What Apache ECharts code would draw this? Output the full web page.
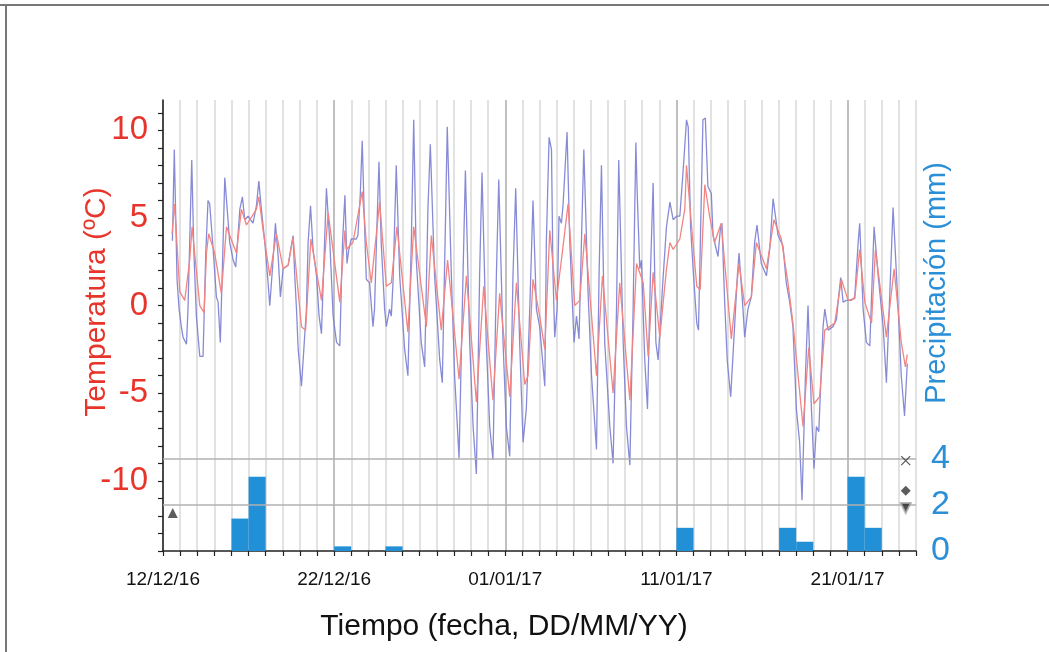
<!DOCTYPE html>
<html>
<head>
<meta charset="utf-8">
<title>Temperatura y precipitación</title>
<script src="https://cdn.jsdelivr.net/npm/echarts@6/dist/echarts.min.js"></script>
<style>
  html, body { margin: 0; padding: 0; background: #fff; }
  #chart { width: 1049px; height: 652px; }
</style>
</head>
<body>
<div id="chart"></div>
<script>
// x = días desde 12/12/16
var dateLabels = ['12/12/16', '22/12/16', '01/01/17', '11/01/17', '21/01/17'];
var labelDays = [0, 10, 20, 30, 40];

// precipitación diaria (mm), un valor por día
var precip = [0, 0, 0, 0, 1.4, 3.2, 0, 0, 0, 0, 0.2, 0, 0, 0.2, 0, 0, 0, 0, 0, 0, 0, 0,
  0, 0, 0, 0, 0, 0, 0, 0, 1.0, 0, 0, 0, 0, 0, 1.0, 0.4, 0, 0, 3.2, 1.0, 0, 0];

// temperatura (serie azul) [día, ºC]
var tempBlue = [
  [0.55, 3.7], [0.66, 8.9], [0.82, 1.5], [0.94, -0.2], [1.07, -1.2], [1.17, -1.8], [1.37, -2.2],
  [1.46, -0.2], [1.56, 3.6], [1.68, 8.3], [1.80, 3.2], [1.95, -0.6], [2.15, -2.9], [2.34, -2.9],
  [2.50, 3.0], [2.63, 6.0], [2.73, 5.8], [2.93, 3.2], [3.12, 0.5], [3.22, 0.2], [3.35, -2.1],
  [3.51, 3.6], [3.61, 7.3], [3.90, 3.6], [4.10, 2.6], [4.25, 2.2], [4.49, 5.5], [4.64, 6.2],
  [4.78, 4.9], [4.97, 5.1], [5.26, 4.7], [5.46, 5.7], [5.60, 7.1], [5.75, 5.5], [5.95, 3.6],
  [6.14, 1.3], [6.24, 0.0], [6.43, 2.6], [6.57, 4.7], [6.73, 2.8], [6.86, 0.5], [7.02, 2.1],
  [7.31, 2.3], [7.60, 4.0], [7.70, 1.7], [7.80, -0.2], [7.90, -2.5], [8.09, -4.6], [8.38, -0.2],
  [8.48, 3.6], [8.62, 5.7], [8.77, 3.2], [8.97, 1.7], [9.12, -0.6], [9.26, -1.6], [9.36, 1.3],
  [9.55, 6.7], [9.75, 3.6], [9.94, -0.6], [10.14, -2.1], [10.33, -2.3], [10.49, 3.6], [10.63, 6.3],
  [10.75, 2.4], [10.86, 3.2], [11.0, 3.8], [11.29, 3.8], [11.39, 4.0], [11.53, 6.4], [11.64, 9.4],
  [11.78, 4.5], [11.88, 1.5], [12.07, 1.3], [12.27, -1.2], [12.36, -0.2], [12.50, 4.5], [12.62, 8.2],
  [12.75, 3.6], [12.95, -0.2], [13.05, -1.2], [13.24, -0.2], [13.34, -0.6], [13.44, 1.3], [13.63, 8.0],
  [13.83, 1.7], [14.12, -2.5], [14.31, -4.0], [14.51, 3.6], [14.65, 10.6], [14.80, 2.6], [15.09, -2.1],
  [15.29, -3.5], [15.48, 5.5], [15.62, 9.2], [15.87, 1.7], [16.17, -3.1], [16.32, -4.4], [16.52, 5.5],
  [16.61, 10.2], [16.85, 1.7], [17.04, -4.0], [17.30, -8.7], [17.53, 1.7], [17.67, 7.7], [17.92, -2.1],
  [18.12, -6.9], [18.31, -9.6], [18.50, 1.7], [18.64, 7.6], [18.89, -2.1], [19.09, -6.9], [19.28, -8.8],
  [19.48, 1.7], [19.62, 7.2], [19.87, -2.1], [20.06, -6.9], [20.26, -8.6], [20.45, 1.7], [20.61, 6.7],
  [20.84, -2.1], [21.04, -7.8], [21.23, -5.9], [21.43, -0.2], [21.62, 6.0], [21.82, -0.2], [22.01, -1.2],
  [22.31, -4.6], [22.40, 3.6], [22.56, 9.6], [22.70, 8.9], [22.79, 1.7], [22.89, -1.8], [23.03, -0.2],
  [23.14, 5.1], [23.28, 4.7], [23.38, 5.8], [23.61, 9.9], [23.77, 3.6], [23.92, 0.2], [24.02, -2.1],
  [24.16, -0.6], [24.31, -1.9], [24.45, 3.6], [24.59, 8.9], [24.84, 0.7], [25.04, -4.0], [25.33, -8.2],
  [25.48, 1.7], [25.62, 8.0], [25.81, -2.1], [26.11, -6.9], [26.30, -9.0], [26.50, -0.2], [26.63, 8.3],
  [26.89, -2.1], [27.08, -6.9], [27.28, -9.1], [27.47, -0.2], [27.63, 9.3], [27.71, 6.4], [27.86, 2.1],
  [27.96, 2.6], [28.15, -3.1], [28.31, -5.9], [28.49, 2.1], [28.64, 7.0], [28.80, -2.1], [28.93, -3.1],
  [29.23, 1.7], [29.42, 4.5], [29.62, 5.9], [29.81, 4.9], [30.01, 5.1], [30.20, 5.1], [30.40, 7.8],
  [30.59, 10.6], [30.69, 10.2], [30.83, 4.5], [31.00, 1.7], [31.19, -1.0], [31.29, -1.4], [31.55, 10.6],
  [31.69, 10.7], [31.84, 6.8], [32.04, 6.4], [32.14, 4.0], [32.33, 3.2], [32.43, 2.8], [32.58, 4.5],
  [32.66, 4.7], [32.82, 0.2], [32.97, -3.1], [33.17, -5.2], [33.40, -1.2], [33.56, 1.7], [33.66, 3.0],
  [33.89, -0.2], [33.99, -1.8], [34.18, -0.2], [34.38, 0.5], [34.57, 3.6], [34.71, 4.6], [34.96, 2.4],
  [35.26, 1.7], [35.45, 3.2], [35.65, 6.1], [35.94, 4.0], [36.23, 3.4], [36.42, 1.3], [36.62, 0.2],
  [36.81, -1.2], [37.01, -5.9], [37.20, -7.8], [37.34, -11.1], [37.54, -4.0], [37.69, 0.0], [37.89, -5.9],
  [38.04, -9.3], [38.18, -6.9], [38.32, -7.2], [38.57, -1.2], [38.67, -0.2], [38.86, -1.4], [39.15, -1.2],
  [39.35, -0.8], [39.48, 0.5], [39.60, 1.6], [39.74, 0.2], [39.93, 0.3], [40.23, 0.3], [40.42, 0.5],
  [40.62, 3.6], [40.71, 4.7], [40.91, -0.2], [41.10, -2.1], [41.30, -2.3], [41.55, 4.5], [41.79, 1.7],
  [42.08, -1.2], [42.27, -4.4], [42.47, 0.7], [42.66, 5.6], [42.96, -0.2], [43.14, -4.0], [43.33, -6.3],
  [43.49, -3.3]
];

// temperatura (serie roja) [día, ºC]
var tempRed = [
  [0.53, 4.1], [0.68, 5.8], [0.98, 0.8], [1.27, 0.3], [1.56, 2.6], [1.70, 4.5], [2.15, 0.0],
  [2.40, -0.4], [2.54, 3.0], [2.67, 4.1], [3.02, 3.0], [3.41, 0.7], [3.71, 4.5], [4.29, 3.0],
  [4.58, 5.5], [4.88, 4.6], [5.46, 5.5], [5.60, 6.2], [5.85, 4.3], [6.24, 1.7], [6.63, 4.1],
  [7.02, 2.1], [7.31, 2.3], [7.60, 3.9], [8.09, -1.2], [8.33, -1.4], [8.64, 3.8], [9.26, 0.3],
  [9.65, 5.3], [10.33, 0.2], [10.63, 4.3], [10.71, 3.2], [11.10, 3.6], [11.64, 6.5], [11.88, 3.6],
  [12.17, 1.3], [12.66, 5.9], [13.05, 1.1], [13.34, 1.3], [13.67, 4.5], [14.31, -1.5], [14.65, 4.5],
  [15.39, -1.2], [15.68, 4.0], [16.26, -1.4], [16.63, 2.6], [17.30, -4.2], [17.73, 1.7], [18.31, -5.5],
  [18.74, 1.1], [19.28, -5.4], [19.67, 0.7], [20.26, -5.2], [20.65, 1.3], [21.14, -4.5], [21.33, -4.0],
  [21.62, 1.5], [22.01, -0.6], [22.31, -2.5], [22.60, 4.3], [22.99, 0.3], [23.28, 2.6], [23.67, 5.8],
  [24.06, 0.0], [24.35, 0.3], [24.65, 4.1], [25.33, -4.0], [25.68, 1.7], [26.30, -5.0], [26.69, 1.3],
  [27.28, -5.4], [27.67, 2.4], [28.06, 1.3], [28.35, -2.9], [28.64, 1.9], [29.03, -1.8], [29.42, 2.1],
  [29.62, 3.6], [29.81, 3.2], [30.20, 3.8], [30.49, 5.5], [30.59, 8.0], [31.00, 3.2], [31.19, 1.1],
  [31.39, 0.9], [31.66, 6.9], [31.94, 5.1], [32.23, 3.6], [32.62, 4.7], [33.21, -1.9], [33.66, 2.4],
  [33.99, 0.0], [34.38, 0.5], [34.67, 3.6], [35.26, 2.1], [35.70, 4.9], [36.13, 3.8], [36.52, 1.3],
  [36.81, -1.0], [37.40, -6.9], [37.73, -2.4], [38.04, -5.6], [38.37, -5.2], [38.67, -1.4], [39.25, -1.0],
  [39.64, 1.5], [40.03, 0.3], [40.42, 0.4], [40.71, 3.2], [41.01, 0.2], [41.40, -1.0], [41.63, 3.2],
  [42.27, -1.8], [42.72, 2.1], [43.14, -2.1], [43.38, -3.5], [43.49, -2.8]
];

// marcadores sueltos [día, mm, símbolo]
var markerDays = [0.57, 43.4, 43.4, 43.4];
var markerVals = [1.64, 3.9, 2.6, 1.85];
var markerSymbols = ['triangle', 'path://M0,0L10,10M10,0L0,10', 'diamond', 'triangle'];
var markerRotate = [0, 0, 0, 180];

var tempTicks = [];
for (var t = -14; t <= 11; t++) tempTicks.push(t);

var chart = echarts.init(document.getElementById('chart'));

var dayLineColors = ['#ababab'];
for (var k = 0; k < 9; k++) dayLineColors.push('#d8d8d8');

var font = 'Liberation Sans, Arial, sans-serif';

chart.setOption({
  animation: false,
  backgroundColor: '#fff',
  grid: {
    left: 163, right: 133, top: 100, bottom: 101,
    containLabel: false, outerBoundsMode: 'none'
  },
  xAxis: {
    type: 'value',
    min: 0,
    max: 44,
    interval: 1,
    axisLine: { show: true, onZero: false, lineStyle: { color: '#222', width: 1.5 } },
    axisTick: { show: true, inside: false, length: 5, lineStyle: { color: '#222', width: 1.2 } },
    axisLabel: {
      customValues: labelDays,
      formatter: function (v) {
        var i = labelDays.indexOf(Math.round(v));
        return i >= 0 ? dateLabels[i] : '';
      },
      color: '#111', fontSize: 19, fontFamily: font, margin: 19
    },
    splitLine: {
      show: true, showMinLine: true, showMaxLine: true,
      lineStyle: { color: dayLineColors, width: 1.5 }
    }
  },
  yAxis: [
    {
      type: 'value',
      min: -14,
      max: 11.73,
      position: 'left',
      axisLine: { show: true, onZero: false, lineStyle: { color: '#222', width: 1.5 } },
      axisTick: { show: true, length: 5, customValues: tempTicks, lineStyle: { color: '#222', width: 1.2 } },
      axisLabel: {
        customValues: [-10, -5, 0, 5, 10],
        color: '#e8352b', fontSize: 33, fontFamily: font, margin: 15
      },
      splitLine: { show: false }
    },
    {
      type: 'value',
      min: 0,
      max: 19.46,
      position: 'right',
      axisLine: { show: false },
      axisTick: { show: false },
      axisLabel: {
        customValues: [0, 2, 4],
        color: '#2a8fd6', fontSize: 34, fontFamily: font, margin: 15
      },
      splitLine: { show: false }
    }
  ],
  graphic: [
    { type: 'line', shape: { x1: 0, y1: 5, x2: 1049, y2: 5 }, style: { stroke: '#777', lineWidth: 2 } },
    { type: 'line', shape: { x1: 6, y1: 5, x2: 6, y2: 652 }, style: { stroke: '#777', lineWidth: 2 } },
    {
      type: 'text', x: 97, y: 302, rotation: Math.PI / 2,
      style: { text: 'Temperatura (ºC)', fill: '#e8352b', font: '30px ' + font, textAlign: 'center', textVerticalAlign: 'middle' }
    },
    {
      type: 'text', x: 937, y: 283, rotation: Math.PI / 2,
      style: { text: 'Precipitación (mm)', fill: '#2a8fd6', font: '29px ' + font, textAlign: 'center', textVerticalAlign: 'middle' }
    },
    {
      type: 'text', x: 504, y: 627,
      style: { text: 'Tiempo (fecha, DD/MM/YY)', fill: '#111', font: '30px ' + font, textAlign: 'center', textVerticalAlign: 'middle' }
    }
  ],
  series: [
    {
      name: 'Precipitación',
      type: 'custom',
      xAxisIndex: 0,
      yAxisIndex: 1,
      z: 3,
      data: precip.map(function (v, i) { return [i, v]; }).filter(function (d) { return d[1] > 0; }),
      renderItem: function (params, api) {
        var day = api.value(0), val = api.value(1);
        var p0 = api.coord([day, 0]);
        var p1 = api.coord([day + 1, val]);
        return {
          type: 'rect',
          shape: { x: p0[0], y: p1[1], width: p1[0] - p0[0], height: p0[1] - p1[1] },
          style: { fill: '#2290d6' }
        };
      }
    },
    {
      name: 'Temp azul',
      type: 'line',
      xAxisIndex: 0,
      yAxisIndex: 0,
      z: 4,
      showSymbol: false,
      data: tempBlue,
      lineStyle: { color: '#7a7ed2', width: 1.3, opacity: 0.9 }
    },
    {
      name: 'Temp roja',
      type: 'line',
      xAxisIndex: 0,
      yAxisIndex: 0,
      z: 5,
      showSymbol: false,
      data: tempRed,
      lineStyle: { color: '#f28482', width: 1.3 }
    },
    {
      name: 'Marcadores',
      type: 'scatter',
      xAxisIndex: 0,
      yAxisIndex: 1,
      z: 6,
      data: markerDays.map(function (d, i) {
        var isCross = markerSymbols[i].indexOf('path') === 0;
        var isDown = markerRotate[i] === 180;
        return {
          value: [d, markerVals[i]],
          symbol: markerSymbols[i],
          symbolRotate: markerRotate[i],
          symbolSize: isCross ? 9 : 10,
          itemStyle: isCross
            ? { color: 'none', borderColor: '#333', borderWidth: 1.3 }
            : (isDown
              ? { color: '#222', borderColor: '#aaa', borderWidth: 2 }
              : { color: '#333' })
        };
      }),
      markLine: {
        silent: true,
        symbol: 'none',
        label: { show: false },
        lineStyle: { color: '#b0b0b0', width: 1.5, type: 'solid' },
        data: [{ yAxis: 2 }, { yAxis: 4 }]
      }
    }
  ]
});
</script>
</body>
</html>
